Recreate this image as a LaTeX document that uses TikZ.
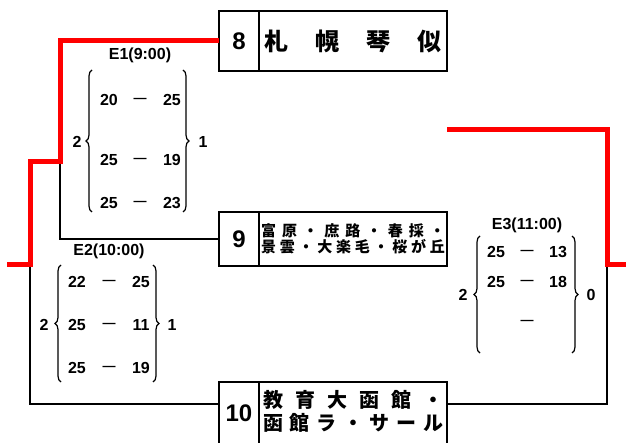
\documentclass[tikz,border=0pt]{standalone}
\usepackage{fontspec}
\setmainfont{Liberation Sans}
\newfontfamily\jp{Noto Sans CJK JP}
\usetikzlibrary{positioning,decorations.pathreplacing}

\begin{document}
\begin{tikzpicture}[x=1pt,y=-1pt,
    win/.style={red,line width=5pt},
    lose/.style={black,line width=2pt},
    numbox/.style={draw,line width=2pt,outer sep=0pt,inner sep=0pt,minimum width=40pt,font=\bfseries\fontsize{24}{24}\selectfont},
    namebox/.style={draw,line width=2pt,outer sep=0pt,inner sep=0pt,minimum width=188pt,align=center,font=\jp\bfseries},
    sc/.style={inner sep=0pt,font=\bfseries\fontsize{16}{16}\selectfont},
    bar/.style={inner sep=0pt,font=\bfseries\fontsize{13}{13}\selectfont},
    brc/.style={decorate,decoration={brace,amplitude=6pt},line width=1.2pt}]
    \useasboundingbox (0,0) rectangle (626,443);

    % teams
    \node[numbox,minimum height=60pt] (n8) at (239,41) {8};
    \node[namebox,minimum height=60pt,right=0pt of n8,font=\jp\bfseries\fontsize{24}{24}\selectfont] (t8)
        {\makebox[177pt][s]{札\hfil 幌\hfil 琴\hfil 似}};

    \node[numbox,minimum height=54pt] (n9) at (239,239) {9};
    \node[namebox,minimum height=54pt,right=0pt of n9,font=\jp\bfseries\fontsize{15}{16}\selectfont] (t9)
        {\makebox[184pt][s]{富\hfil 原\hfil ・\hfil 庶\hfil 路\hfil ・\hfil 春\hfil 採\hfil ・}\\
         \makebox[184pt][s]{景\hfil 雲\hfil ・\hfil 大\hfil 楽\hfil 毛\hfil ・\hfil 桜\hfil が\hfil 丘}};

    \node[numbox,minimum height=62pt] (n10) at (239,413) {10};
    \node[namebox,minimum height=62pt,right=0pt of n10,font=\jp\bfseries\fontsize{20}{20}\selectfont] (t10)
        {\raisebox{10pt}{\begin{tabular}{@{}c@{}}
         \makebox[180pt][s]{教\hfil 育\hfil 大\hfil 函\hfil 館\hfil ・}\\
         \makebox[180pt][s]{函\hfil 館\hfil ラ\hfil ・\hfil サ\hfil ー\hfil ル}
         \end{tabular}}};

    % bracket
    \coordinate (e1) at (60,162);
    \coordinate (e2) at (30,265);
    \coordinate (e3) at (607,265);
    \coordinate (l10) at (218,404);
    \coordinate (r10) at (448,404);
    \coordinate (w1) at (7,265);
    \coordinate (w3) at (626,265);
    \coordinate (top3) at (447,130);

    \draw[lose] (n9.west) -| (e1);
    \draw[lose] (l10) -| (e2);
    \draw[lose] (r10) -| (e3);
    \draw[win] (n8.west) -| (e1) -| (e2) -- (w1);
    \draw[win] (top3) -| (e3) -- (w3);

    % E1
    \node[sc] (e1t) at (140,55) {E1(9:00)};
    \draw[brc] (92,212) -- (92,70);
    \draw[brc] (183,70) -- (183,212);
    \node[sc] (e1a) at (77,142) {2};
    \node[sc] (e1b) at (203,142) {1};
    \foreach \y/\a/\b [count=\i] in {100/20/25,160/25/19,203/25/23} {
        \node[sc] (e1l\i) at (109,\y) {\a};
        \node[bar] (e1m\i) at (140,\y) {—};
        \node[sc] (e1r\i) at (172,\y) {\b};
    }

    % E2
    \node[sc] (e2t) at (109,251) {E2(10:00)};
    \draw[brc] (61,382) -- (61,265);
    \draw[brc] (153,265) -- (153,382);
    \node[sc] (e2a) at (44,325) {2};
    \node[sc] (e2b) at (172,325) {1};
    \foreach \y/\a/\b [count=\i] in {282/22/25,325/25/11,368/25/19} {
        \node[sc] (e2l\i) at (77,\y) {\a};
        \node[bar] (e2m\i) at (109,\y) {—};
        \node[sc] (e2r\i) at (141,\y) {\b};
    }

    % E3
    \node[sc] (e3t) at (527,225) {E3(11:00)};
    \draw[brc] (480,353) -- (480,236);
    \draw[brc] (572,236) -- (572,353);
    \node[sc] (e3a) at (463,295) {2};
    \node[sc] (e3b) at (591,295) {0};
    \foreach \y/\a/\b [count=\i] in {252/25/13,282/25/18} {
        \node[sc] (e3l\i) at (496,\y) {\a};
        \node[bar] (e3m\i) at (527,\y) {—};
        \node[sc] (e3r\i) at (558,\y) {\b};
    }
    \node[bar] (e3m3) at (527,322) {—};
\end{tikzpicture}
\end{document}
